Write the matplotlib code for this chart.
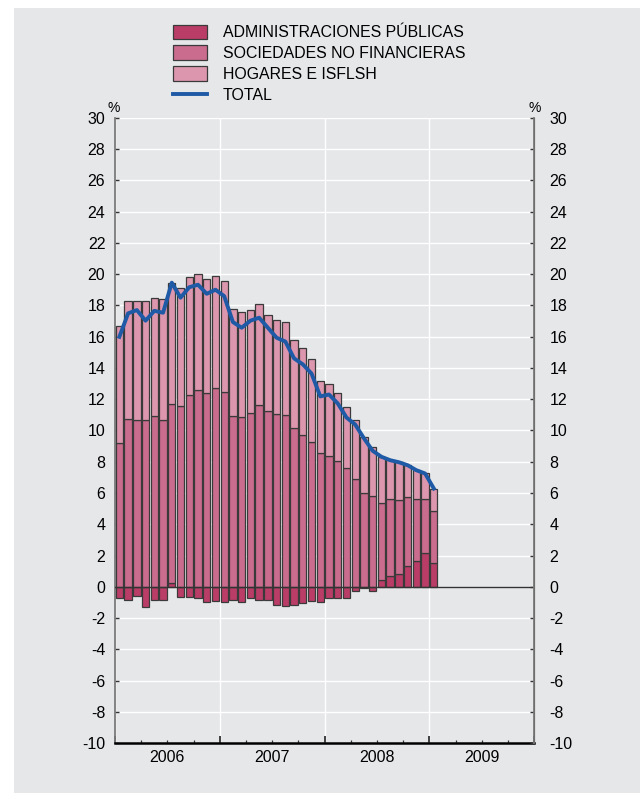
import numpy as np
import matplotlib.pyplot as plt
from matplotlib.patches import Rectangle
from matplotlib.ticker import FixedLocator, FixedFormatter

plt.rcParams['font.family'] = ['Liberation Sans', 'DejaVu Sans']
plt.rcParams['axes.unicode_minus'] = False

# monthly data, Jan 2006 .. Jan 2009 (%)
years = ['2006', '2007', '2008', '2009']
aapp = [-0.68, -0.81, -0.60, -1.28, -0.85, -0.85, 0.26, -0.64, -0.64, -0.68, -0.96, -0.90,
        -0.96, -0.81, -0.98, -0.68, -0.85, -0.81, -1.13, -1.24, -1.17, -1.02, -0.92, -0.98,
        -0.70, -0.68, -0.68, -0.28, -0.10, -0.26, 0.43, 0.72, 0.85, 1.32, 1.66, 2.17,
        1.54]
snf = [9.20, 10.75, 10.64, 10.70, 10.94, 10.70, 11.42, 11.56, 12.28, 12.58, 12.37, 12.69,
       12.47, 10.94, 10.83, 11.09, 11.66, 11.26, 11.04, 11.00, 10.13, 9.70, 9.27, 8.55,
       8.40, 8.02, 7.61, 6.87, 6.01, 5.80, 4.94, 4.87, 4.69, 4.44, 3.99, 3.48,
       3.32]
hogares = [7.47, 7.55, 7.66, 7.60, 7.56, 7.68, 7.77, 7.57, 7.52, 7.42, 7.33, 7.21,
           7.08, 6.80, 6.72, 6.61, 6.40, 6.12, 6.02, 5.93, 5.65, 5.55, 5.29, 4.61,
           4.60, 4.39, 3.90, 3.79, 3.59, 3.16, 2.95, 2.51, 2.43, 2.02, 1.81, 1.60,
           1.43]
labels = ['ADMINISTRACIONES PÚBLICAS', 'SOCIEDADES NO FINANCIERAS', 'HOGARES E ISFLSH', 'TOTAL']

aapp = np.array(aapp)
snf = np.array(snf)
hogares = np.array(hogares)
total = aapp + snf + hogares
x = np.arange(len(aapp)) + 0.5
base = np.clip(aapp, 0, None)

bg = '#e6e7e9'
c_aapp = '#b93d66'
c_snf = '#ca6c8d'
c_hog = '#dc96ae'
edge = '#3a3a3a'
blue = '#1f5aa6'

fig = plt.figure(figsize=(6.4, 7.93), dpi=100)
fig.patch.set_facecolor('white')
fig.add_artist(Rectangle((14 / 640, 0), 626 / 640, 785 / 793, transform=fig.transFigure,
                         facecolor=bg, edgecolor='none', zorder=-10))

ax = fig.add_axes([0.1797, 0.0627, 0.6551, 0.7889])
ax.set_facecolor(bg)

b1 = ax.bar(x, aapp, width=0.84, color=c_aapp, edgecolor=edge, lw=0.9, zorder=3)
b2 = ax.bar(x, snf, bottom=base, width=0.84, color=c_snf, edgecolor=edge, lw=0.9, zorder=3)
b3 = ax.bar(x, hogares, bottom=base + snf, width=0.84, color=c_hog, edgecolor=edge, lw=0.9, zorder=3)
ax.axhline(0, color='#333333', lw=1, zorder=4)
ln, = ax.plot(x, total, color=blue, lw=2.8, zorder=5)

ax.set_xlim(0, 48)
ax.set_ylim(-10, 30)
yt = np.arange(-10, 31, 2)
ax.set_yticks(yt)
ax.tick_params(axis='y', direction='in', length=3, width=1, color='#333333', pad=7,
               labelsize=11.5)

# x axis: year boundaries as major ticks, quarters as minor with year labels
ax.set_xticks([0, 12, 24, 36, 48])
ax.tick_params(axis='x', which='major', direction='in', length=5, width=1.3,
               color='#333333', labelbottom=False)
quarters = [m for y in range(4) for m in (12 * y + 3, 12 * y + 6, 12 * y + 9)]
qlabels = [s for y in years for s in ('', y, '')]
ax.xaxis.set_minor_locator(FixedLocator(quarters))
ax.xaxis.set_minor_formatter(FixedFormatter(qlabels))
ax.tick_params(axis='x', which='minor', direction='in', length=2.5, width=0.9,
               color='#333333', pad=5, labelsize=11.5)

ax.grid(axis='y', color='white', lw=1, zorder=0)
ax.grid(axis='x', which='major', color='white', lw=1, zorder=0)
ax.set_axisbelow(True)

ax.spines['top'].set_visible(False)
ax.spines['left'].set_color('#7a7a7a')
ax.spines['left'].set_linewidth(1.3)
ax.spines['bottom'].set_color('black')
ax.spines['bottom'].set_linewidth(1.8)

ax2 = ax.twinx()
ax2.set_ylim(-10, 30)
ax2.set_yticks(yt)
ax2.tick_params(axis='y', direction='in', length=3, width=1, color='#333333', pad=11,
                labelsize=11.5)
for s in ['top', 'left', 'bottom']:
    ax2.spines[s].set_visible(False)
ax2.spines['right'].set_color('#7a7a7a')
ax2.spines['right'].set_linewidth(1.3)

ax.annotate('%', xy=(0, 1), xycoords='axes fraction', xytext=(-1, 2),
            textcoords='offset points', ha='center', va='bottom', fontsize=10)
ax.annotate('%', xy=(1, 1), xycoords='axes fraction', xytext=(0, 2),
            textcoords='offset points', ha='center', va='bottom', fontsize=10)

fig.legend([b1, b2, b3, ln], labels, loc='upper left', bbox_to_anchor=(0.2703, 0.969),
           frameon=False, fontsize=11.4, handlelength=2.15, handleheight=1.0,
           handletextpad=1.0, labelspacing=0.34, borderpad=0, borderaxespad=0)

fig.savefig('out.png', dpi=100)
